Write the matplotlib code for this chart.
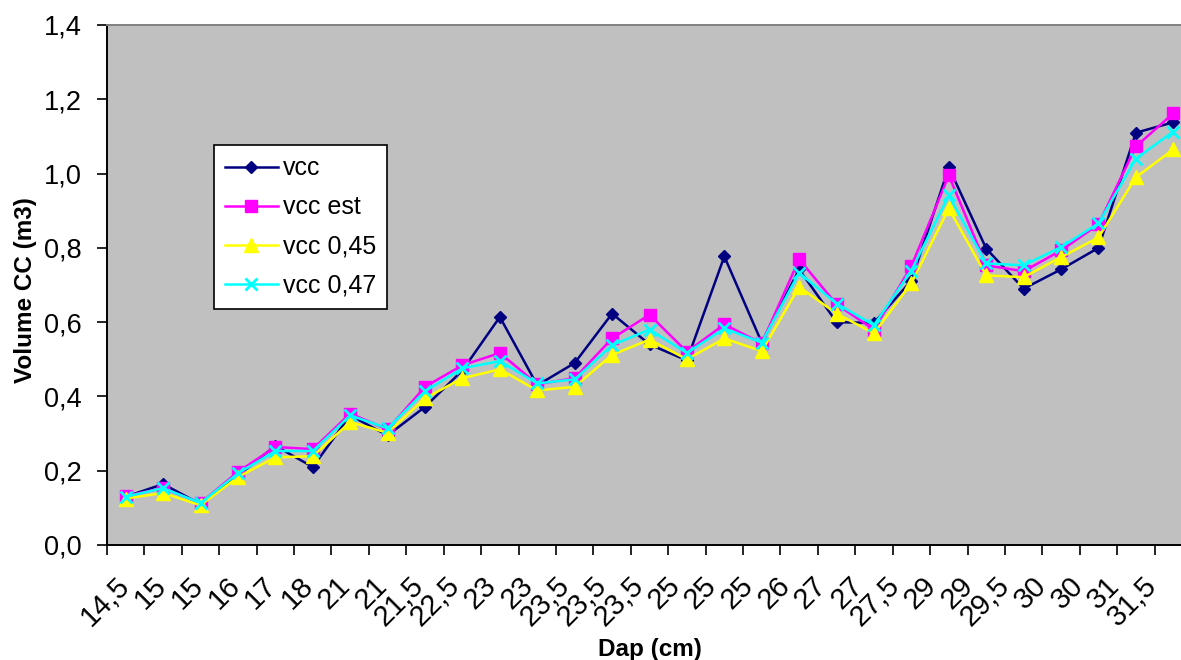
import numpy as np
import matplotlib
matplotlib.use("Agg")
import matplotlib.pyplot as plt
from matplotlib.transforms import ScaledTranslation

plt.rcParams['font.family'] = ['Liberation Sans', 'DejaVu Sans']

# Dap classes (cm), one per tree
dap = ["14,5", "15", "15", "16", "17", "18", "21", "21", "21,5", "22,5",
       "23", "23", "23,5", "23,5", "23,5", "25", "25", "25", "26", "27",
       "27", "27,5", "29", "29", "29,5", "30", "30", "31", "31,5"]

vcc = [0.130, 0.164, 0.110, 0.187, 0.267, 0.210, 0.349, 0.295, 0.372, 0.470,
       0.614, 0.430, 0.490, 0.623, 0.540, 0.497, 0.777, 0.545, 0.742, 0.600,
       0.598, 0.712, 1.017, 0.798, 0.690, 0.742, 0.800, 1.110, 1.138]
vcc_est = [0.132, 0.153, 0.113, 0.197, 0.264, 0.258, 0.354, 0.311, 0.426, 0.484,
           0.517, 0.433, 0.449, 0.556, 0.620, 0.520, 0.594, 0.543, 0.769, 0.648,
           0.580, 0.751, 0.995, 0.753, 0.737, 0.793, 0.863, 1.073, 1.162]
vcc_045 = [0.125, 0.140, 0.107, 0.183, 0.236, 0.239, 0.331, 0.302, 0.395, 0.449,
           0.473, 0.416, 0.426, 0.512, 0.553, 0.500, 0.556, 0.522, 0.695, 0.623,
           0.570, 0.705, 0.906, 0.726, 0.721, 0.775, 0.828, 0.990, 1.065]
vcc_047 = [0.130, 0.153, 0.113, 0.193, 0.253, 0.253, 0.349, 0.314, 0.414, 0.476,
           0.495, 0.435, 0.446, 0.538, 0.580, 0.517, 0.583, 0.545, 0.733, 0.650,
           0.592, 0.739, 0.941, 0.758, 0.753, 0.802, 0.866, 1.040, 1.113]

fig = plt.figure(figsize=(11.81, 6.60), dpi=100)
fig.patch.set_facecolor("white")
ax = fig.add_axes([107/1181, 1 - 545/660, 1085/1181, 520/660])
ax.set_facecolor("#c0c0c0")

x = np.arange(len(dap))
ax.plot(x, vcc, color="#000080", lw=1.8, marker="D", ms=6.5, label="vcc")
ax.plot(x, vcc_est, color="#ff00ff", lw=1.8, marker="s", ms=8.5, label="vcc est")
ax.plot(x, vcc_045, color="#ffff00", lw=1.8, marker="^", ms=10, label="vcc 0,45")
ax.plot(x, vcc_047, color="#00ffff", lw=1.8, marker="x", ms=8.5, mew=2,
        label="vcc 0,47")

ax.set_xlim(-0.5, len(dap) - 0.5)
ax.set_ylim(0, 1.4)
ax.set_yticks(np.arange(0, 1.41, 0.2))
ax.set_yticklabels([f"{v:.1f}".replace(".", ",") for v in np.arange(0, 1.41, 0.2)])
ax.tick_params(axis="y", direction="out", length=7, width=1.2, pad=11,
               labelsize=19.5)

# category labels at centres, tick marks between categories
ax.set_xticks(x)
ax.set_xticklabels(dap, rotation=45, ha="right", va="top",
                   rotation_mode="anchor", fontsize=21)
ax.set_xticks(np.arange(-0.5, len(dap), 1), minor=True)
ax.tick_params(axis="x", which="major", length=0, pad=19)
ax.tick_params(axis="x", which="minor", direction="out", length=7, width=1.2)
for i, lab in enumerate(ax.get_xticklabels()):
    dx = (-10 - 0.75 * i) / 100
    lab.set_transform(lab.get_transform()
                      + ScaledTranslation(dx, 0, fig.dpi_scale_trans))

for s in ["left", "bottom"]:
    ax.spines[s].set_color("black")
    ax.spines[s].set_linewidth(1.4)
for s in ["top", "right"]:
    ax.spines[s].set_color("#808080")
    ax.spines[s].set_linewidth(1.4)

ax.set_xlabel("Dap (cm)", fontsize=17.5, fontweight="bold")
ax.xaxis.set_label_coords(0.5, -0.178)
ax.set_ylabel("Volume CC (m3)", fontsize=17.5, fontweight="bold", va="center")
ax.yaxis.set_label_coords(-0.0755, 0.49)

leg = ax.legend(loc="upper left", bbox_to_anchor=(0.0986, 0.769),
                borderaxespad=0, fontsize=18, handlelength=2.1,
                handletextpad=0.2, labelspacing=0.6, borderpad=0.45,
                fancybox=False, framealpha=1, edgecolor="black")
leg.get_frame().set_linewidth(1.2)

fig.savefig("out.png", dpi=100, facecolor="white")
